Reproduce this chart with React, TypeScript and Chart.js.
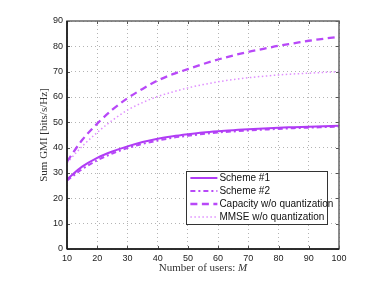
import React, { useEffect, useRef } from "react";
import { Chart, registerables } from "chart.js";

Chart.register(...registerables);

const users = [10, 15, 20, 25, 30, 35, 40, 45, 50, 55, 60, 65, 70, 75, 80, 85, 90, 95, 100];
const scheme1 = [27.5, 32.5, 36, 38.5, 40.5, 42.2, 43.5, 44.5, 45.3, 46, 46.5, 46.9, 47.3, 47.6, 47.9, 48.1, 48.3, 48.5, 48.7];
const scheme2 = [27, 31.5, 35, 37.7, 39.8, 41.5, 42.8, 43.9, 44.7, 45.4, 46, 46.4, 46.8, 47.1, 47.4, 47.7, 47.9, 48.1, 48.3];
const capacity = [34.5, 43, 49.5, 55, 59.5, 63.2, 66.5, 69, 71, 73, 74.8, 76.4, 77.8, 79, 80.2, 81.2, 82.2, 83, 83.8];
const mmse = [34, 40.5, 46, 50.8, 54.8, 57.8, 60.2, 62, 63.6, 64.9, 66, 66.9, 67.6, 68.2, 68.7, 69.1, 69.4, 69.7, 70];
const seriesNames = ["Scheme #1", "Scheme #2", "Capacity w/o quantization", "MMSE w/o quantization"];
const xTicks = [10, 20, 30, 40, 50, 60, 70, 80, 90, 100];
const yTicks = [0, 10, 20, 30, 40, 50, 60, 70, 80, 90];
const xTitle = "Number of users: ";
const xTitleVar = "M";
const yTitle = "Sum GMI [bits/s/Hz]";

const C1 = "#b03cf5";
const C2 = "#b848f8";
const C3 = "#b848f8";
const C4 = "#e090ff";

const styles = [
  { color: C1, width: 2, dash: [] as number[] },
  { color: C2, width: 2, dash: [5, 3, 2, 3] },
  { color: C3, width: 2.3, dash: [7, 4.5] },
  { color: C4, width: 1.5, dash: [1.5, 2.5] },
];

const SERIF = "'Liberation Serif', 'Times New Roman', serif";
const SANS = "'Liberation Sans', Arial, sans-serif";

const framePlugin = {
  id: "frame",
  afterDraw(chart: any) {
    const { ctx, chartArea: a, scales } = chart;
    ctx.save();
    // inner tick marks
    ctx.strokeStyle = "#555";
    ctx.lineWidth = 1;
    ctx.setLineDash([]);
    ctx.beginPath();
    for (const v of xTicks) {
      const x = Math.round(scales.x.getPixelForValue(v)) + 0.5;
      ctx.moveTo(x, a.bottom); ctx.lineTo(x, a.bottom - 3);
      ctx.moveTo(x, a.top); ctx.lineTo(x, a.top + 3);
    }
    for (const v of yTicks) {
      const y = Math.round(scales.y.getPixelForValue(v)) + 0.5;
      ctx.moveTo(a.left, y); ctx.lineTo(a.left + 3, y);
      ctx.moveTo(a.right, y); ctx.lineTo(a.right - 3, y);
    }
    ctx.stroke();
    // frame
    ctx.strokeStyle = "#666";
    ctx.lineWidth = 1.5;
    ctx.strokeRect(a.left, a.top, a.right - a.left, a.bottom - a.top);
    ctx.strokeStyle = "#111";
    ctx.beginPath();
    ctx.moveTo(a.left, a.bottom); ctx.lineTo(a.right, a.bottom);
    ctx.moveTo(a.left, a.top); ctx.lineTo(a.left, a.bottom);
    ctx.stroke();

    // x title with italic variable
    ctx.fillStyle = "#333";
    ctx.textBaseline = "middle";
    ctx.font = `11px ${SERIF}`;
    const w1 = ctx.measureText(xTitle).width;
    ctx.font = `italic 11px ${SERIF}`;
    const w2 = ctx.measureText(xTitleVar).width;
    const cx = (a.left + a.right) / 2;
    const ty = a.bottom + 19;
    let sx = cx - (w1 + w2) / 2;
    ctx.font = `11px ${SERIF}`;
    ctx.textAlign = "left";
    ctx.fillText(xTitle, sx, ty);
    ctx.font = `italic 11px ${SERIF}`;
    ctx.fillText(xTitleVar, sx + w1, ty);

    // y title
    ctx.save();
    ctx.translate(44, (a.top + a.bottom) / 2);
    ctx.rotate(-Math.PI / 2);
    ctx.font = `11px ${SERIF}`;
    ctx.textAlign = "center";
    ctx.fillText(yTitle, 0, 0);
    ctx.restore();

    // legend box
    const bx = scales.x.getPixelForValue(49.5);
    const bw = 141;
    const by = a.top + 150;
    const rowH = 13;
    const bh = rowH * 4 + 1;
    ctx.fillStyle = "#ffffff";
    ctx.fillRect(bx, by, bw, bh);
    ctx.strokeStyle = "#333";
    ctx.lineWidth = 1;
    ctx.strokeRect(Math.round(bx) + 0.5, Math.round(by) + 0.5, bw, bh);
    ctx.font = `10px ${SANS}`;
    ctx.textAlign = "left";
    ctx.textBaseline = "middle";
    ctx.fillStyle = "#111";
    seriesNames.forEach((name, i) => {
      const y = by + 7 + i * rowH;
      const s = styles[i];
      ctx.strokeStyle = s.color;
      ctx.lineWidth = s.width;
      ctx.setLineDash(s.dash);
      ctx.beginPath();
      ctx.moveTo(bx + 4, y);
      ctx.lineTo(bx + 31, y);
      ctx.stroke();
      ctx.setLineDash([]);
      ctx.fillText(name, bx + 33, y + 0.5);
    });
    ctx.restore();
  },
};

export default function App() {
  const ref = useRef<HTMLCanvasElement | null>(null);
  useEffect(() => {
    document.body.style.margin = "0";
    const canvas = ref.current!;
    const datasets = [scheme1, scheme2, capacity, mmse].map((d, i) => ({
      label: seriesNames[i],
      data: users.map((u, j) => ({ x: u, y: d[j] })),
      borderColor: styles[i].color,
      backgroundColor: styles[i].color,
      borderWidth: styles[i].width,
      borderDash: styles[i].dash,
      pointRadius: 0,
      cubicInterpolationMode: "monotone" as const,
      fill: false,
    }));
    const chart = new Chart(canvas, {
      type: "line",
      data: { datasets },
      options: {
        animation: false,
        responsive: false,
        layout: { padding: { top: 21, right: 35, left: 0, bottom: 0 } },
        plugins: { legend: { display: false }, tooltip: { enabled: false } },
        scales: {
          x: {
            type: "linear",
            min: 10,
            max: 100,
            afterBuildTicks: (s: any) => { s.ticks = xTicks.map((v) => ({ value: v })); },
            afterFit: (s: any) => { s.height = 32; },
            grid: { color: "#b4b4b4", drawTicks: false, lineWidth: 1 },
            border: { display: false, dash: [1, 3] },
            ticks: { color: "#222", font: { family: SANS, size: 9 }, padding: 4, maxRotation: 0 },
            title: { display: false },
          },
          y: {
            type: "linear",
            min: 0,
            max: 90,
            afterBuildTicks: (s: any) => { s.ticks = yTicks.map((v) => ({ value: v })); },
            afterFit: (s: any) => { s.width = 67; },
            grid: { color: "#b4b4b4", drawTicks: false, lineWidth: 1 },
            border: { display: false, dash: [1, 3] },
            ticks: { color: "#222", font: { family: SANS, size: 9 }, padding: 4 },
            title: { display: false },
          },
        },
      },
      plugins: [framePlugin],
    });
    return () => chart.destroy();
  }, []);
  return (
    <div style={{ position: "absolute", left: 0, top: 0, width: 374, height: 281, background: "#fff" }}>
      <canvas ref={ref} width={374} height={281} style={{ width: 374, height: 281, display: "block" }} />
    </div>
  );
}
